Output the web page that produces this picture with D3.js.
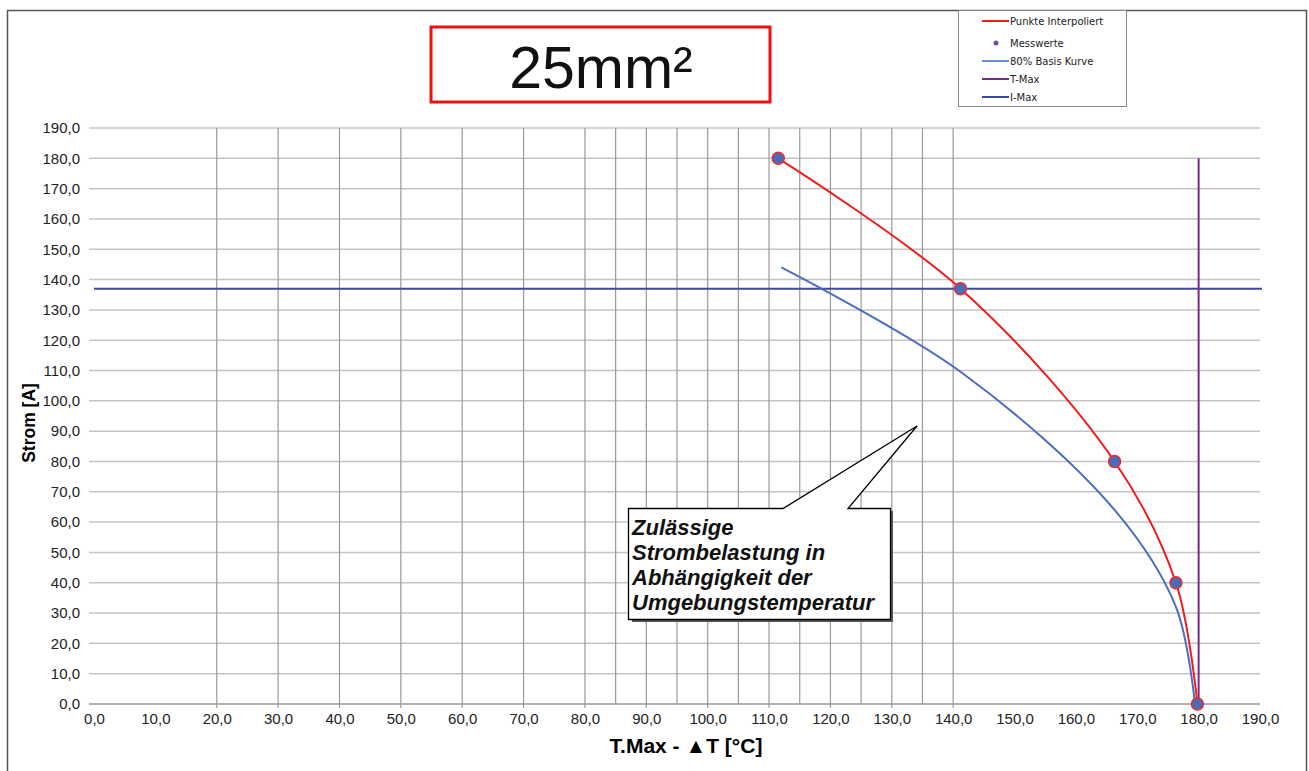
<!DOCTYPE html>
<html><head><meta charset="utf-8">
<script src="https://cdn.jsdelivr.net/npm/d3@7"></script>
<style>body{margin:0;background:#fff}svg{display:block;font-family:"Liberation Sans",Arial,sans-serif}</style>
</head><body><svg id="c" width="1309" height="771"></svg>
<script>
// Data
const measX = [111.5, 141.2, 166.3, 176.3, 179.8];
const measY = [180, 137, 80, 40, 0];
const interpX = [111.5, 141.2, 166.3, 176.3, 179.8];
const interpY = [180, 137, 80, 40, 0];
const basisX = [112, 141.2, 166.3, 176.3, 179.4];
const basisY = [144, 109.6, 64, 32, 0];
const tMax = 180, tMaxTop = 180;
const iMax = 137;
const xTicks = d3.range(0, 191, 10);
const yTicks = d3.range(0, 191, 10);
const vGrid = [20,30,40,50,60,70,80,85,90,95,100,105,110,115,120,125,130,135,140];
const legendLabels = ["Punkte Interpoliert","Messwerte","80% Basis Kurve","T-Max","I-Max"];
const calloutLines = ["Zulässige","Strombelastung in","Abhängigkeit der","Umgebungstemperatur"];

const svg = d3.select("#c");
const x = d3.scaleLinear().domain([0,190]).range([94,1260]);
const y = d3.scaleLinear().domain([0,190]).range([704,128]);
const fmt = v => v.toFixed(1).replace(".", ",");

// outer frame
svg.append("path").attr("d","M7.5,771 V10.5 H1306.5 V771").attr("fill","none").attr("stroke","#555").attr("stroke-width",1.5);

// horizontal grid
svg.append("g").selectAll("line").data(yTicks).join("line")
  .attr("x1", x(0)-5).attr("x2", x(190)).attr("y1", v=>y(v)).attr("y2", v=>y(v))
  .attr("stroke", v=> v===0 ? "#999" : "#c4c4c4").attr("stroke-width",1.5);
// vertical grid
svg.append("g").selectAll("line").data(vGrid).join("line")
  .attr("x1", v=>x(v)).attr("x2", v=>x(v)).attr("y1", y(190)).attr("y2", v=>y(0) + (v%10===0?4:0))
  .attr("stroke","#999").attr("stroke-width",1.2);

// axes
const yAx = svg.append("g").attr("transform",`translate(${x(0)-6},0)`)
  .call(d3.axisLeft(y).tickValues(yTicks).tickFormat(fmt).tickSize(0).tickPadding(8));
yAx.select(".domain").remove();
yAx.selectAll("text").attr("font-size",15).attr("fill","#222").attr("font-family","Liberation Sans, Arial");
const xAx = svg.append("g").attr("transform",`translate(0,${y(0)})`)
  .call(d3.axisBottom(x).tickValues(xTicks).tickFormat(fmt).tickSize(0).tickPadding(9));
xAx.select(".domain").remove();
xAx.selectAll("text").attr("font-size",15).attr("fill","#222").attr("font-family","Liberation Sans, Arial");

// axis titles
svg.append("text").attr("transform",`translate(35,423) rotate(-90)`).attr("text-anchor","middle")
  .attr("font-weight","bold").attr("font-size",17.5).text("Strom [A]");
svg.append("text").attr("x",686).attr("y",753).attr("text-anchor","middle")
  .attr("font-weight","bold").attr("font-size",21).text("T.Max - ▲T [°C]");

// I-Max
svg.append("line").attr("x1",x(0)).attr("x2",x(190)+2).attr("y1",y(iMax)).attr("y2",y(iMax))
  .attr("stroke","#3d4a9c").attr("stroke-width",2);
// T-Max
svg.append("line").attr("x1",x(tMax)).attr("x2",x(tMax)).attr("y1",y(0)).attr("y2",y(tMaxTop))
  .attr("stroke","#7a2a87").attr("stroke-width",2);

// curves
const line = d3.line().x(p=>x(p[0])).y(p=>y(p[1])).curve(d3.curveCatmullRom.alpha(0.5));
svg.append("path").datum(basisX.map((v,i)=>[v,basisY[i]])).attr("d",line)
  .attr("fill","none").attr("stroke","#4a6fbf").attr("stroke-width",2);
svg.append("path").datum(interpX.map((v,i)=>[v,interpY[i]])).attr("d",line)
  .attr("fill","none").attr("stroke","#f01c1c").attr("stroke-width",2);
svg.append("g").selectAll("circle").data(measX.map((v,i)=>[v,measY[i]])).join("circle")
  .attr("cx",p=>x(p[0])).attr("cy",p=>y(p[1])).attr("r",6)
  .attr("fill","#4a6bb5").attr("stroke","#f02a2a").attr("stroke-width",1.5);

// title box
svg.append("rect").attr("x",431).attr("y",27).attr("width",339).attr("height",75)
  .attr("fill","#fff").attr("stroke","#ee1111").attr("stroke-width",3);
svg.append("text").attr("x",601).attr("y",88).attr("text-anchor","middle").attr("font-size",59)
  .attr("fill","#111").text("25mm²");

// legend
const lg = svg.append("g");
lg.append("rect").attr("x",958.5).attr("y",10.5).attr("width",168).attr("height",96)
  .attr("fill","#fff").attr("stroke","#888");
const lgY = [21,43,61,79,97];
const lgCol = ["#f01c1c",null,"#6a8fd0","#7a2a87","#3d4a9c"];
legendLabels.forEach((t,i)=>{
  if (lgCol[i]) lg.append("line").attr("x1",982).attr("x2",1009).attr("y1",lgY[i]).attr("y2",lgY[i])
      .attr("stroke",lgCol[i]).attr("stroke-width",2);
  else lg.append("circle").attr("cx",996).attr("cy",lgY[i]).attr("r",2.5).attr("fill","#7a4a9a");
  lg.append("text").attr("x",1010).attr("y",lgY[i]+3.5).attr("font-size",10)
    .attr("font-family","DejaVu Sans").attr("fill","#222").text(t);
});

// callout
const cg = svg.append("g");
cg.append("path").attr("d","M632,511 H893 V622 H632 Z").attr("fill","#555");
cg.append("path").attr("d","M628.5,508.5 H783 L917,426 L848,508.5 H890.5 V619.5 H628.5 Z")
  .attr("fill","#fff").attr("stroke","#000").attr("stroke-width",1.3);
calloutLines.forEach((t,i)=>{
  cg.append("text").attr("x",632).attr("y",535+i*25).attr("font-size",22).attr("font-weight","bold")
    .attr("font-style","italic").attr("fill","#111").text(t);
});
</script></body></html>
